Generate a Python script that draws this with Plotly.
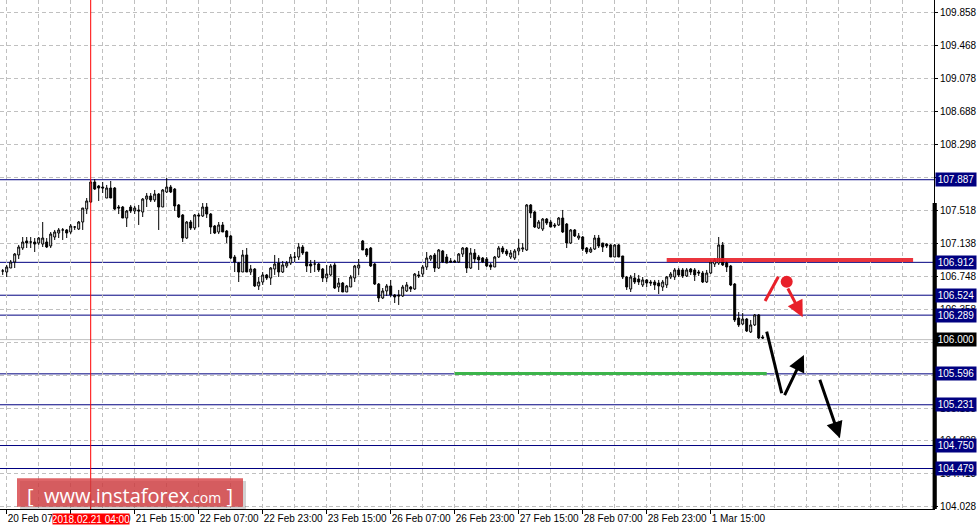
import plotly.graph_objects as go

# ---------------- data (USDJPY H1) ----------------
opens = [
    106.810, 106.798, 106.845, 106.916, 106.999, 107.081, 107.164, 107.152, 107.152, 107.140,
    107.128, 107.152, 107.105, 107.211, 107.258, 107.294, 107.294, 107.270, 107.329, 107.305,
    107.388, 107.541, 107.624, 107.860, 107.813, 107.801, 107.671, 107.789, 107.789, 107.565,
    107.565, 107.435, 107.565, 107.518, 107.530, 107.506, 107.659, 107.695, 107.648, 107.718,
    107.565, 107.742, 107.801, 107.777, 107.589, 107.471, 107.199, 107.388, 107.317, 107.471,
    107.459, 107.565, 107.482, 107.341, 107.270, 107.353, 107.282, 107.223, 106.975, 106.904,
    106.798, 106.999, 106.798, 106.833, 106.633, 106.680, 106.763, 106.727, 106.833, 106.904,
    106.798, 106.869, 106.904, 106.975, 106.975, 107.093, 107.034, 106.892, 106.892, 106.892,
    106.833, 106.727, 106.763, 106.881, 106.621, 106.668, 106.562, 106.621, 106.727, 106.845,
    107.164, 107.069, 107.081, 106.892, 106.656, 106.491, 106.574, 106.633, 106.527, 106.527,
    106.515, 106.574, 106.621, 106.597, 106.763, 106.774, 106.857, 106.951, 106.999, 106.845,
    107.046, 106.975, 106.928, 106.928, 106.916, 107.010, 107.081, 106.845, 107.022, 106.975,
    106.963, 106.951, 106.881, 106.857, 106.975, 107.081, 107.046, 106.975, 106.963, 107.046,
    107.069, 107.058, 107.589, 107.506, 107.317, 107.305, 107.423, 107.388, 107.353, 107.353,
    107.435, 107.364, 107.140, 107.294, 107.199, 107.211, 107.081, 107.034, 107.069, 107.199,
    107.140, 107.128, 107.117, 106.975, 107.117, 106.987, 106.739, 106.597, 106.727, 106.715,
    106.645, 106.704, 106.680, 106.680, 106.668, 106.621, 106.645, 106.739, 106.739, 106.822,
    106.822, 106.751, 106.833, 106.822, 106.798, 106.786, 106.680, 106.786, 106.892, 106.904,
    107.117, 106.904, 106.869, 106.656, 106.255, 106.184, 106.243, 106.090, 106.173, 106.291,
    106.031,
]
highs = [
    106.833, 106.881, 106.940, 107.022, 107.117, 107.211, 107.211, 107.211, 107.199, 107.211,
    107.388, 107.199, 107.270, 107.294, 107.317, 107.317, 107.305, 107.364, 107.341, 107.400,
    107.553, 107.671, 107.884, 107.895, 107.825, 107.860, 107.825, 107.872, 107.801, 107.589,
    107.577, 107.530, 107.589, 107.577, 107.589, 107.671, 107.730, 107.730, 107.766, 107.730,
    107.777, 107.907, 107.825, 107.789, 107.600, 107.482, 107.400, 107.412, 107.482, 107.494,
    107.612, 107.612, 107.494, 107.353, 107.388, 107.388, 107.294, 107.235, 106.999, 106.916,
    107.058, 107.081, 106.881, 106.845, 106.739, 106.798, 106.774, 106.857, 106.999, 106.963,
    106.928, 106.928, 107.010, 107.034, 107.140, 107.117, 107.034, 106.940, 106.940, 106.904,
    106.845, 106.881, 106.892, 106.904, 106.727, 106.680, 106.645, 106.763, 106.881, 106.951,
    107.176, 107.081, 107.093, 106.904, 106.668, 106.609, 106.656, 106.704, 106.538, 106.586,
    106.645, 106.680, 106.633, 106.786, 106.810, 106.881, 107.034, 106.999, 107.022, 107.069,
    107.058, 107.010, 106.963, 106.940, 107.022, 107.093, 107.093, 107.081, 107.069, 106.999,
    106.975, 106.975, 106.904, 106.987, 107.105, 107.105, 107.069, 107.058, 107.069, 107.187,
    107.140, 107.600, 107.600, 107.518, 107.412, 107.435, 107.435, 107.412, 107.376, 107.447,
    107.530, 107.376, 107.305, 107.305, 107.258, 107.223, 107.093, 107.093, 107.235, 107.235,
    107.140, 107.140, 107.128, 107.128, 107.128, 106.987, 106.751, 106.763, 106.786, 106.763,
    106.739, 106.715, 106.704, 106.704, 106.704, 106.704, 106.751, 106.798, 106.845, 106.845,
    106.845, 106.845, 106.845, 106.845, 106.822, 106.810, 106.822, 106.940, 106.963, 107.211,
    107.152, 106.928, 106.881, 106.668, 106.326, 106.314, 106.255, 106.232, 106.302, 106.302,
    106.055,
]
lows = [
    106.763, 106.739, 106.845, 106.845, 106.951, 107.058, 107.081, 107.081, 107.034, 107.117,
    107.093, 107.081, 107.081, 107.176, 107.199, 107.176, 107.199, 107.246, 107.294, 107.294,
    107.294, 107.482, 107.612, 107.766, 107.636, 107.730, 107.671, 107.671, 107.530, 107.482,
    107.435, 107.329, 107.494, 107.482, 107.353, 107.447, 107.565, 107.624, 107.624, 107.294,
    107.565, 107.730, 107.730, 107.518, 107.435, 107.152, 107.187, 107.294, 107.294, 107.329,
    107.447, 107.435, 107.246, 107.246, 107.246, 107.270, 107.140, 106.951, 106.798, 106.680,
    106.798, 106.798, 106.763, 106.621, 106.586, 106.645, 106.704, 106.645, 106.763, 106.739,
    106.786, 106.845, 106.881, 106.916, 106.940, 106.999, 106.798, 106.786, 106.798, 106.798,
    106.680, 106.680, 106.751, 106.597, 106.562, 106.562, 106.562, 106.621, 106.680, 106.763,
    107.058, 106.975, 106.857, 106.645, 106.444, 106.479, 106.515, 106.503, 106.432, 106.409,
    106.503, 106.562, 106.562, 106.586, 106.727, 106.739, 106.822, 106.928, 106.798, 106.833,
    106.904, 106.904, 106.904, 106.904, 106.904, 106.975, 106.786, 106.833, 106.904, 106.822,
    106.904, 106.857, 106.822, 106.857, 106.963, 107.010, 106.987, 106.951, 106.940, 106.999,
    107.034, 107.046, 107.435, 107.317, 107.305, 107.282, 107.353, 107.329, 107.317, 107.341,
    107.258, 107.081, 107.128, 107.211, 107.176, 107.046, 107.010, 107.022, 107.058, 107.081,
    107.034, 107.081, 106.975, 106.975, 106.975, 106.715, 106.586, 106.562, 106.656, 106.645,
    106.621, 106.621, 106.633, 106.586, 106.538, 106.574, 106.609, 106.715, 106.704, 106.739,
    106.727, 106.739, 106.763, 106.692, 106.751, 106.668, 106.668, 106.774, 106.857, 106.881,
    106.869, 106.798, 106.633, 106.208, 106.149, 106.173, 106.090, 106.078, 106.161, 106.007,
    106.007,
]
closes = [
    106.810, 106.857, 106.916, 107.010, 107.093, 107.152, 107.140, 107.152, 107.128, 107.199,
    107.199, 107.093, 107.246, 107.270, 107.294, 107.294, 107.258, 107.341, 107.329, 107.388,
    107.553, 107.636, 107.860, 107.777, 107.789, 107.789, 107.789, 107.671, 107.541, 107.553,
    107.435, 107.518, 107.518, 107.553, 107.518, 107.659, 107.695, 107.648, 107.718, 107.565,
    107.766, 107.801, 107.742, 107.577, 107.447, 107.199, 107.388, 107.317, 107.471, 107.459,
    107.565, 107.482, 107.329, 107.258, 107.353, 107.270, 107.211, 106.963, 106.916, 106.798,
    106.999, 106.798, 106.833, 106.633, 106.680, 106.763, 106.727, 106.845, 106.892, 106.798,
    106.881, 106.904, 106.975, 106.973, 107.093, 107.022, 106.869, 106.869, 106.892, 106.822,
    106.727, 106.774, 106.869, 106.609, 106.668, 106.562, 106.633, 106.739, 106.869, 106.881,
    107.058, 106.999, 106.869, 106.656, 106.491, 106.574, 106.633, 106.527, 106.503, 106.515,
    106.621, 106.645, 106.597, 106.774, 106.751, 106.857, 106.963, 106.987, 106.845, 107.058,
    106.916, 106.904, 106.916, 106.916, 107.010, 107.081, 106.845, 107.022, 106.951, 106.940,
    106.916, 106.869, 106.857, 106.975, 107.081, 107.034, 107.010, 107.022, 107.046, 107.081,
    107.081, 107.589, 107.494, 107.329, 107.388, 107.423, 107.376, 107.329, 107.341, 107.435,
    107.270, 107.140, 107.294, 107.223, 107.223, 107.069, 107.034, 107.069, 107.199, 107.105,
    107.093, 107.105, 106.975, 107.117, 106.975, 106.739, 106.621, 106.739, 106.680, 106.680,
    106.704, 106.668, 106.668, 106.645, 106.633, 106.680, 106.739, 106.774, 106.822, 106.763,
    106.751, 106.822, 106.798, 106.763, 106.786, 106.680, 106.786, 106.916, 106.940, 107.117,
    106.881, 106.857, 106.645, 106.232, 106.173, 106.243, 106.102, 106.173, 106.291, 106.019,
    106.019,
]
bar_index = list(range(len(opens)))  # hourly bars, first bar = 20 Feb 06:00

time_labels = ["20 Feb 07:00", "20 Feb 23:00", "21 Feb 15:00", "22 Feb 07:00",
               "22 Feb 23:00", "23 Feb 15:00", "26 Feb 07:00", "26 Feb 23:00",
               "27 Feb 15:00", "28 Feb 07:00", "28 Feb 23:00", "1 Mar 15:00"]
time_label_bars = [1, 17, 33, 49, 65, 81, 97, 113, 129, 145, 161, 177]
grid_bars = list(range(1, 233, 8))

price_ticks = [109.858, 109.468, 109.078, 108.688, 108.298, 107.908, 107.518, 107.138,
               106.748, 106.358, 105.968, 105.578, 105.188, 104.808, 104.418, 104.028]

level_prices = [107.887, 106.912, 106.524, 106.289, 105.596, 105.231, 104.750, 104.479]
bid_price = 106.000

marked_bar = 22
marked_label = "2018.02.21 04:00"

resistance_bars = [166, 227.6]
resistance_price = 106.94
support_bars = [113, 191]
support_price = 105.60

# forecast drawings (bar, price)
red_stroke = [(190.6, 106.456), (193.9, 106.743)]
red_dot = (196.0, 106.684)
black_stroke = [(191.0, 106.094), (194.75, 105.367)]
red_arrows = [((196.1, 106.621), (200.0, 106.264))]
black_arrows = [((195.3, 105.327), (200.3, 105.819)),
                ((204.15, 105.544), (209.3, 104.836))]

# ---------------- figure ----------------
NAVY = "#000080"
RED = "#e8202a"
GRID = "#c0c0c0"
FONT = "Liberation Sans"

fig = go.Figure()

fig.add_trace(go.Candlestick(
    x=bar_index, open=opens, high=highs, low=lows, close=closes,
    increasing=dict(line=dict(color="black", width=1), fillcolor="white"),
    decreasing=dict(line=dict(color="black", width=1), fillcolor="black"),
    hoverinfo="skip", showlegend=False,
))

fig.add_trace(go.Scatter(x=resistance_bars, y=[resistance_price] * 2, mode="lines",
                         line=dict(color=RED, width=4), opacity=0.9,
                         hoverinfo="skip", showlegend=False))
fig.add_trace(go.Scatter(x=support_bars, y=[support_price] * 2, mode="lines",
                         line=dict(color="#3cb44b", width=3),
                         hoverinfo="skip", showlegend=False))
fig.add_trace(go.Scatter(x=[p[0] for p in red_stroke], y=[p[1] for p in red_stroke],
                         mode="lines", line=dict(color=RED, width=3),
                         hoverinfo="skip", showlegend=False))
fig.add_trace(go.Scatter(x=[p[0] for p in black_stroke], y=[p[1] for p in black_stroke],
                         mode="lines", line=dict(color="black", width=3),
                         hoverinfo="skip", showlegend=False))
fig.add_trace(go.Scatter(x=[red_dot[0]], y=[red_dot[1]], mode="markers",
                         marker=dict(color=RED, size=12),
                         hoverinfo="skip", showlegend=False))

annotations = []
for (tail, head) in red_arrows:
    annotations.append(dict(x=head[0], y=head[1], ax=tail[0], ay=tail[1],
                            xref="x", yref="y", axref="x", ayref="y", text="",
                            showarrow=True, arrowhead=2, arrowsize=1.1,
                            arrowwidth=3, arrowcolor=RED))
for (tail, head) in black_arrows:
    annotations.append(dict(x=head[0], y=head[1], ax=tail[0], ay=tail[1],
                            xref="x", yref="y", axref="x", ayref="y", text="",
                            showarrow=True, arrowhead=2, arrowsize=1.1,
                            arrowwidth=3, arrowcolor="black"))

shapes = []
for lv in level_prices:
    shapes.append(dict(type="line", xref="paper", x0=0, x1=1, yref="y", y0=lv, y1=lv,
                       line=dict(color=NAVY, width=1), layer="below"))
    annotations.append(dict(xref="paper", x=1, xanchor="left", xshift=1, yref="y", y=lv,
                            text=f"{lv:.3f}", showarrow=False, bgcolor=NAVY,
                            font=dict(color="white", size=10, family=FONT),
                            width=38, height=11, borderpad=1, align="center"))
shapes.append(dict(type="line", xref="paper", x0=0, x1=1, yref="y", y0=bid_price, y1=bid_price,
                   line=dict(color="#c0c0c0", width=1), layer="below"))
annotations.append(dict(xref="paper", x=1, xanchor="left", xshift=1, yref="y", y=bid_price,
                        text=f"{bid_price:.3f}", showarrow=False, bgcolor="black",
                        font=dict(color="white", size=10, family=FONT),
                        width=38, height=11, borderpad=1, align="center"))

# red vertical marker line + its time label
shapes.append(dict(type="line", xref="x", x0=marked_bar, x1=marked_bar, yref="paper", y0=0, y1=1,
                   line=dict(color="red", width=1)))
annotations.append(dict(xref="x", x=marked_bar, yref="paper", y=0, yanchor="top", yshift=-4,
                        text=marked_label, showarrow=False, bgcolor="red",
                        font=dict(color="white", size=10, family=FONT),
                        width=76, height=10, borderpad=0))

# thick right scale bar
shapes.append(dict(type="rect", xref="paper", yref="paper", x0=0.9985, x1=1.003,
                   y0=0, y1=1 - 203 / 509, fillcolor="black", line=dict(width=0)))

# watermark
shapes.append(dict(type="rect", xref="paper", yref="paper", x0=20 / 934, x1=246 / 934,
                   y0=1 - 509 / 509, y1=1 - 481 / 509, fillcolor="rgba(0,0,0,0.18)",
                   line=dict(width=0)))
shapes.append(dict(type="rect", xref="paper", yref="paper", x0=17 / 934, x1=243 / 934,
                   y0=1 - 506.7 / 509, y1=1 - 478.3 / 509, fillcolor="rgba(214,62,66,0.8)",
                   line=dict(width=0)))
annotations.append(dict(xref="paper", yref="paper", x=130 / 934, y=1 - 495 / 509,
                        xanchor="center", yanchor="middle", showarrow=False,
                        text="[&nbsp;&nbsp;www.instaforex<span style='font-size:14px'>.com</span>&nbsp;]",
                        font=dict(color="white", size=20, family="Open Sans")))

fig.update_layout(
    width=977, height=529,
    margin=dict(l=0, r=43, t=0, b=20, autoexpand=False),
    paper_bgcolor="white", plot_bgcolor="white",
    showlegend=False,
    shapes=shapes, annotations=annotations,
    xaxis=dict(
        range=[-0.675, 232.825], rangeslider=dict(visible=False),
        tickmode="array", tickvals=time_label_bars, ticktext=time_labels,
        ticks="outside", ticklen=4, tickcolor="black", tickangle=0,
        ticklabelposition="outside right", automargin=False,
        tickfont=dict(size=10, color="black", family=FONT),
        showline=True, linecolor="black", linewidth=1,
        showgrid=False, zeroline=False,
        minor=dict(tickvals=grid_bars, showgrid=True, gridcolor=GRID,
                   griddash="4px,3px", gridwidth=1, ticks=""),
    ),
    yaxis=dict(
        range=[104.001, 110.008], side="right", automargin=False,
        tickmode="array", tickvals=price_ticks, ticktext=[f"{v:.3f}" for v in price_ticks],
        ticks="outside", ticklen=3, tickcolor="black",
        tickfont=dict(size=10, color="black", family=FONT),
        showline=True, linecolor="black", linewidth=1,
        showgrid=True, gridcolor=GRID, griddash="4px,3px", gridwidth=1,
        zeroline=False,
    ),
)

fig.write_html("out.html", config={"displayModeBar": False},
               post_script="document.body.style.margin='0';document.body.style.overflow='hidden';")
